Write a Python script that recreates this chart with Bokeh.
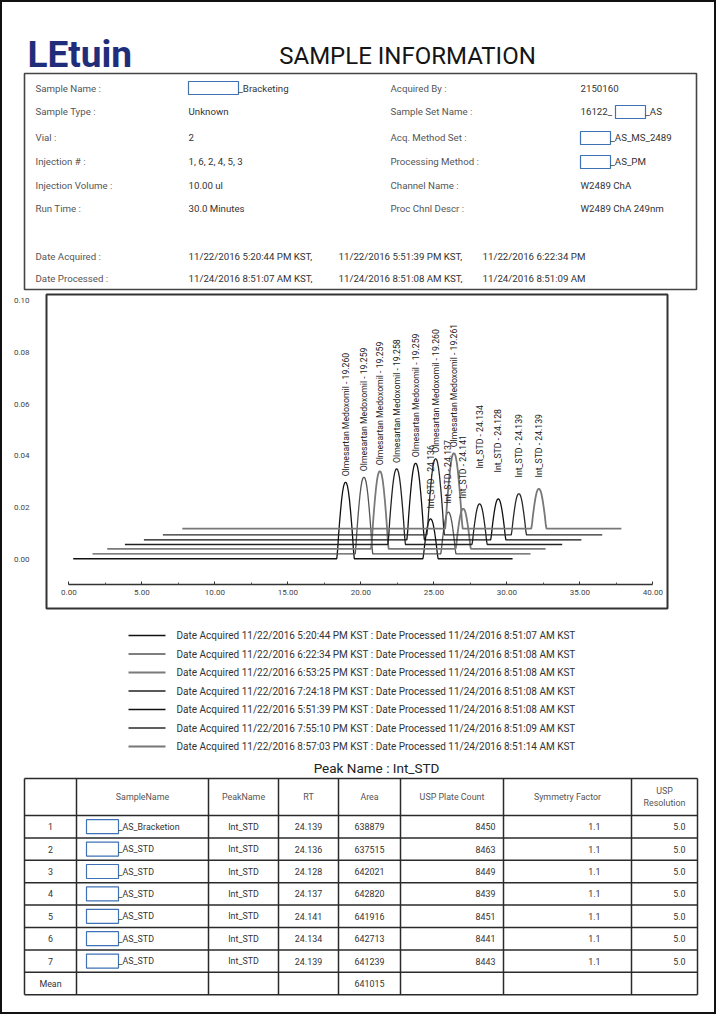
import math
from bokeh.plotting import figure
from bokeh.models import Range1d, FixedTicker, PrintfTickFormatter
from bokeh.layouts import column
from bokeh.embed import file_html
from bokeh.resources import INLINE
from bokeh.core.properties import value

FONT = "Roboto"

# ---------------- header information ----------------
info_left_labels = ["Sample Name :", "Sample Type :", "Vial :", "Injection # :",
                    "Injection Volume :", "Run Time :"]
info_left_values = ["", "Unknown", "2", "1, 6, 2, 4, 5, 3", "10.00 ul", "30.0 Minutes"]
info_right_labels = ["Acquired By :", "Sample Set Name :", "Acq. Method Set :",
                     "Processing Method :", "Channel Name :", "Proc Chnl Descr :"]
info_right_values = ["2150160", "16122_", "", "", "W2489 ChA", "W2489 ChA 249nm"]
date_labels = ["Date Acquired :", "Date Processed :"]
date_acquired = ["11/22/2016 5:20:44 PM KST,", "11/22/2016 5:51:39 PM KST,", "11/22/2016 6:22:34 PM"]
date_processed = ["11/24/2016 8:51:07 AM KST,", "11/24/2016 8:51:08 AM KST,", "11/24/2016 8:51:09 AM"]

# ---------------- chromatogram data ----------------
trace_start = [0.30, 1.62, 2.63, 3.84, 5.14, 6.44, 7.77]
trace_end = [30.39, 31.62, 32.65, 33.79, 35.10, 36.53, 37.84]
trace_baseline = [0.0003, 0.0022, 0.0041, 0.0058, 0.0076, 0.0095, 0.0119]
olm_apex_x = [18.95, 20.21, 21.30, 22.45, 23.75, 25.12, 26.37]
olm_height = [0.0295, 0.0296, 0.0300, 0.0292, 0.0296, 0.0294, 0.0291]
int_apex_x = [24.77, 25.99, 27.01, 28.13, 29.41, 30.82, 32.19]
int_height = [0.0154, 0.0161, 0.0155, 0.0157, 0.0158, 0.0159, 0.0154]
olm_rt_label = ["19.260", "19.259", "19.259", "19.258", "19.259", "19.260", "19.261"]
int_rt_label = ["24.136", "24.137", "24.141", "24.134", "24.128", "24.139", "24.139"]
# peak outline: offset (fraction of half width) and fraction of height
peak_profile_dx = [-1.0, -0.9, -0.8, -0.68, -0.56, -0.45, -0.33, -0.22, -0.11, 0.0]
peak_profile_frac = [0.0, 0.12, 0.30, 0.48, 0.64, 0.77, 0.88, 0.95, 0.99, 1.0]
olm_half_width = 0.60
int_half_width = 0.52

legend_labels = [
    "Date Acquired 11/22/2016 5:20:44 PM KST : Date Processed 11/24/2016 8:51:07 AM KST",
    "Date Acquired 11/22/2016 6:22:34 PM KST : Date Processed 11/24/2016 8:51:08 AM KST",
    "Date Acquired 11/22/2016 6:53:25 PM KST : Date Processed 11/24/2016 8:51:08 AM KST",
    "Date Acquired 11/22/2016 7:24:18 PM  KST : Date Processed 11/24/2016 8:51:08 AM KST",
    "Date Acquired 11/22/2016 5:51:39 PM  KST : Date Processed 11/24/2016 8:51:08 AM KST",
    "Date Acquired 11/22/2016 7:55:10 PM  KST : Date Processed 11/24/2016 8:51:09 AM KST",
    "Date Acquired 11/22/2016 8:57:03 PM  KST : Date Processed 11/24/2016 8:51:14 AM KST",
]

# ---------------- table data ----------------
tbl_headers = ["", "SampleName", "PeakName", "RT", "Area", "USP Plate Count", "Symmetry Factor", "USP\nResolution"]
tbl_index = ["1", "2", "3", "4", "5", "6", "7"]
tbl_sample = ["_AS_Bracketion", "_AS_STD", "_AS_STD", "_AS_STD", "_AS_STD", "_AS_STD", "_AS_STD"]
tbl_peak = ["Int_STD"] * 7
tbl_rt = ["24.139", "24.136", "24.128", "24.137", "24.141", "24.134", "24.139"]
tbl_area = ["638879", "637515", "642021", "642820", "641916", "642713", "641239"]
tbl_plate = ["8450", "8463", "8449", "8439", "8451", "8441", "8443"]
tbl_sym = ["1.1"] * 7
tbl_res = ["5.0"] * 7
tbl_mean_area = "641015"

# ---------------- styles ----------------
trace_colors = ["#111111", "#555555", "#7a7a7a", "#222222", "#111111", "#2a2a2a", "#777777"]
trace_widths = [1.3, 1.3, 1.8, 1.3, 1.3, 1.3, 1.8]
olm_label_gap = 0.0023
int_label_gap = [0.0040, 0.0033, 0.0040, 0.0136, 0.0102, 0.0063, 0.0044]
BLUE = "#3f72b5"
LABEL_C = "#555555"
TEXT_C = "#333333"
INFO_SIZE = "9.7px"
TBL_SIZE = "8.9px"
W = 712          # inner page width (2px page border on each side)
OX = 2           # page origin (window px)


def blank(height, y0, y1):
    f = figure(width=W, height=height, x_range=Range1d(OX, OX + W), y_range=Range1d(y1, y0),
               output_backend="svg", toolbar_location=None,
               x_axis_location=None, y_axis_location=None, frame_align=False,
               min_border_left=0, min_border_right=0, min_border_top=0, min_border_bottom=0)
    f.grid.visible = False
    f.outline_line_color = None
    return f


def txt(f, x, y, s, size=INFO_SIZE, color=TEXT_C, align="left", style="normal", baseline="middle", font=FONT):
    f.text(x=[x], y=[y], text=[s], text_font=value(font), text_font_size=size,
           text_color=color, text_align=align, text_baseline=baseline, text_font_style=style)


def box(f, l, r, t, b, color=BLUE, width=1.2, fill=None):
    f.quad(left=[l], right=[r], top=[t], bottom=[b], fill_color=fill, line_color=color, line_width=width)


# ================= header =================
hdr = blank(290, 2, 292)
txt(hdr, 27, 54, "LEtuin", size="37px", color="#1f2d7b", style="bold")
txt(hdr, 407, 55, "SAMPLE INFORMATION", size="24px", color="#151515", align="center")
box(hdr, 24, 696, 73, 289, color="#444444", width=1.6)

row_y = [88, 111, 137, 161, 185, 208]
for i, y in enumerate(row_y):
    txt(hdr, 35, y, info_left_labels[i], color=LABEL_C)
    if info_left_values[i]:
        txt(hdr, 188, y, info_left_values[i])
    txt(hdr, 390, y, info_right_labels[i], color=LABEL_C)
    if info_right_values[i]:
        txt(hdr, 580, y, info_right_values[i])
# redacted boxes with suffixes
box(hdr, 188, 238, 81, 94)
txt(hdr, 238, 88, "_Bracketing")
box(hdr, 615, 645, 105, 118)
txt(hdr, 645, 111, "_AS")
box(hdr, 580, 610, 131, 144)
txt(hdr, 610, 137, "_AS_MS_2489")
box(hdr, 580, 610, 155, 168)
txt(hdr, 610, 161, "_AS_PM")

date_x = [188, 338, 482]
for j in range(3):
    txt(hdr, date_x[j], 256, date_acquired[j])
    txt(hdr, date_x[j], 278, date_processed[j])
txt(hdr, 35, 256, date_labels[0], color=LABEL_C)
txt(hdr, 35, 278, date_labels[1], color=LABEL_C)

# ================= chromatogram =================
chart = figure(width=W, height=320, x_range=Range1d(-1.53, 41.0), y_range=Range1d(-0.0189, 0.1023),
               output_backend="svg", toolbar_location=None, frame_align=False,
               min_border_left=46 - OX, min_border_right=OX + W - 667, min_border_top=2, min_border_bottom=4)
chart.grid.visible = False
chart.outline_line_color = "#333333"
chart.outline_line_width = 2
chart.background_fill_color = "white"


def peak_points(apex, base, height, hw):
    xs, ys = [], []
    for dx, fr in zip(peak_profile_dx, peak_profile_frac):
        xs.append(apex + dx * hw)
        ys.append(base + fr * height)
    for dx, fr in zip(reversed(peak_profile_dx[:-1]), reversed(peak_profile_frac[:-1])):
        xs.append(apex - dx * hw)
        ys.append(base + fr * height)
    return xs, ys


for k in range(7):
    b = trace_baseline[k]
    xs, ys = [trace_start[k]], [b]
    px, py = peak_points(olm_apex_x[k], b, olm_height[k], olm_half_width)
    xs += px; ys += py
    px, py = peak_points(int_apex_x[k], b, int_height[k], int_half_width)
    xs += px; ys += py
    xs.append(trace_end[k]); ys.append(b)
    chart.line(xs, ys, line_color=trace_colors[k], line_width=trace_widths[k])

olm_lab_y = [trace_baseline[k] + olm_height[k] + olm_label_gap for k in range(7)]
int_lab_y = [trace_baseline[k] + int_height[k] + int_label_gap[k] for k in range(7)]
chart.text(x=olm_apex_x, y=olm_lab_y, text=["Olmesartan Medoxomil - " + s for s in olm_rt_label],
           angle=math.pi / 2, text_align="left", text_baseline="middle",
           text_font=value(FONT), text_font_size="8.7px", text_color="#222222")
chart.text(x=int_apex_x, y=int_lab_y, text=["Int_STD - " + s for s in int_rt_label],
           angle=math.pi / 2, text_align="left", text_baseline="middle",
           text_font=value(FONT), text_font_size="8.7px", text_color="#222222")

ya = chart.yaxis[0]
ya.ticker = FixedTicker(ticks=[0.0, 0.02, 0.04, 0.06, 0.08, 0.10])
ya.formatter = PrintfTickFormatter(format="%.2f")
ya.axis_line_color = None
ya.major_tick_line_color = None
ya.minor_tick_line_color = None
ya.major_label_standoff = 11
ya.major_label_text_font = FONT
ya.major_label_text_font_size = "8px"
ya.major_label_text_color = "#444444"

xa = chart.xaxis[0]
xa.fixed_location = -0.0098
xa.bounds = (0, 40)
xa.ticker = FixedTicker(ticks=[0, 5, 10, 15, 20, 25, 30, 35, 40],
                        minor_ticks=[2.5, 7.5, 12.5, 17.5, 22.5, 27.5, 32.5, 37.5])
xa.formatter = PrintfTickFormatter(format="%.2f")
xa.axis_line_color = "#333333"
xa.axis_line_width = 1.5
xa.major_tick_in = 3
xa.major_tick_out = 0
xa.minor_tick_in = 2
xa.minor_tick_out = 0
xa.major_tick_line_color = "#333333"
xa.minor_tick_line_color = "#555555"
xa.major_label_standoff = 5
xa.major_label_text_font = FONT
xa.major_label_text_font_size = "8px"
xa.major_label_text_color = "#444444"

# ================= legend + table =================
bot = blank(400, 612, 1012)
for i, lab in enumerate(legend_labels):
    y = 635 + 18.5 * i
    bot.line([128, 165], [y, y], line_color=trace_colors[i], line_width=trace_widths[i] + 0.3)
    txt(bot, 176, y, lab, size="10px", color=TEXT_C)

txt(bot, 376, 767, "Peak Name : Int_STD", size="13.5px", color="#222222", align="center")

col_edges = [24, 76, 208, 278, 338, 400, 503, 631, 697]
tbl_top, hdr_bottom, row_h = 778, 815, 22.4
n_rows = 8
tbl_bottom = hdr_bottom + row_h * n_rows
h_lines = [tbl_top, hdr_bottom] + [hdr_bottom + row_h * (r + 1) for r in range(n_rows)]
bot.multi_line(xs=[[col_edges[0], col_edges[-1]] for _ in h_lines], ys=[[y, y] for y in h_lines],
               line_color="#2a2a2a", line_width=1.5)
bot.multi_line(xs=[[x, x] for x in col_edges], ys=[[tbl_top, tbl_bottom] for _ in col_edges],
               line_color="#2a2a2a", line_width=1.5)

centers = [(col_edges[i] + col_edges[i + 1]) / 2 for i in range(8)]
hy = (tbl_top + hdr_bottom) / 2
for i, h in enumerate(tbl_headers):
    if "\n" in h:
        a, b2 = h.split("\n")
        txt(bot, centers[i], hy - 6, a, size=TBL_SIZE, color=LABEL_C, align="center")
        txt(bot, centers[i], hy + 6, b2, size=TBL_SIZE, color=LABEL_C, align="center")
    elif h:
        txt(bot, centers[i], hy, h, size=TBL_SIZE, color=LABEL_C, align="center")

for r in range(7):
    y = hdr_bottom + row_h * r + row_h / 2
    txt(bot, centers[0], y, tbl_index[r], size=TBL_SIZE, align="center")
    box(bot, 86, 118, y - 7, y + 7)
    txt(bot, 118, y, tbl_sample[r], size=TBL_SIZE)
    txt(bot, centers[2], y, tbl_peak[r], size=TBL_SIZE, align="center")
    txt(bot, centers[3], y, tbl_rt[r], size=TBL_SIZE, align="center")
    txt(bot, centers[4], y, tbl_area[r], size=TBL_SIZE, align="center")
    txt(bot, 495, y, tbl_plate[r], size=TBL_SIZE, align="right")
    txt(bot, 600, y, tbl_sym[r], size=TBL_SIZE, align="right")
    txt(bot, 685, y, tbl_res[r], size=TBL_SIZE, align="right")
ym = hdr_bottom + row_h * 7 + row_h / 2
txt(bot, centers[0], ym, "Mean", size=TBL_SIZE, align="center")
txt(bot, centers[4], ym, tbl_mean_area, size=TBL_SIZE, align="center")

layout = column(hdr, chart, bot, spacing=0, styles={"border": "2px solid #111111"})
open("out.html", "w").write(file_html(layout, INLINE))
